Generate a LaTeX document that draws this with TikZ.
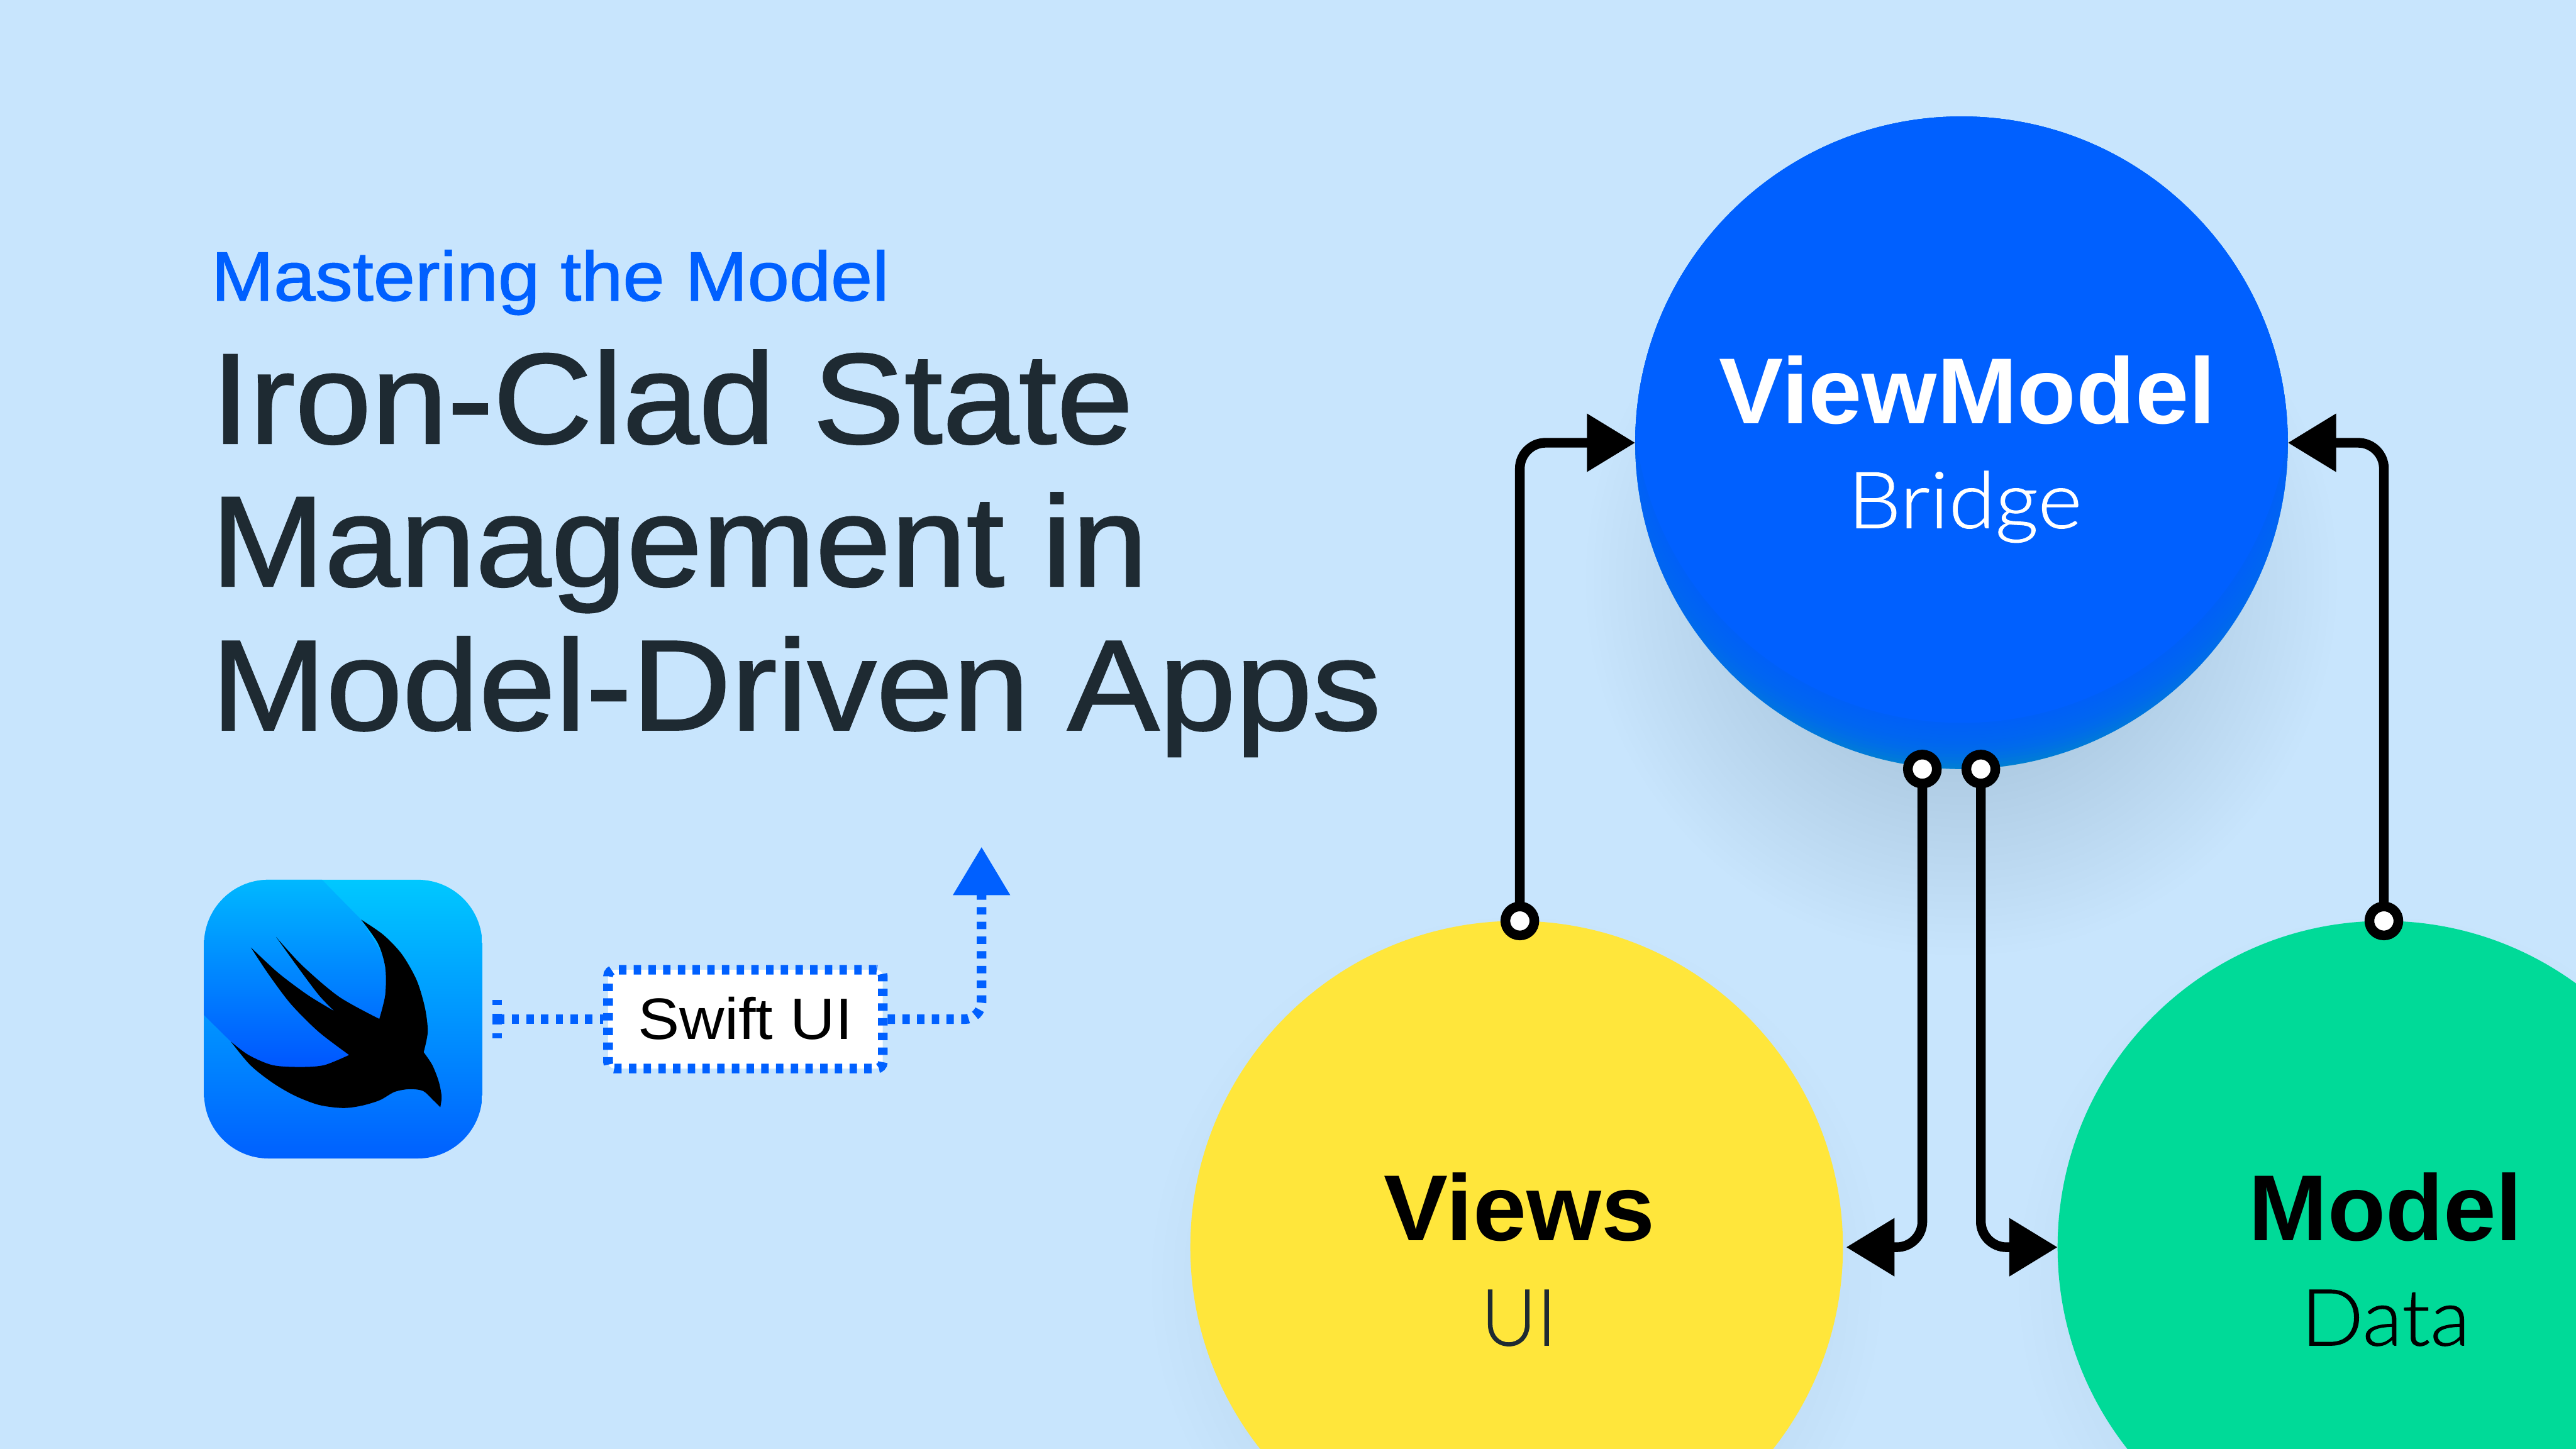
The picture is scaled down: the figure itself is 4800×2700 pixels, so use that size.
\documentclass[tikz,border=0pt]{standalone}
\usepackage{fontspec}
\usepackage{graphicx}
\setmainfont{Liberation Sans}
\newfontfamily\lightf[FakeBold=0.8]{Lato Light}
\newfontfamily\titlef[FakeBold=1.2]{Liberation Sans}
\usetikzlibrary{arrows.meta,shapes.geometric}
\definecolor{bgc}{HTML}{C8E5FD}
\definecolor{brand}{HTML}{0060FF}
\definecolor{rim}{HTML}{0085CC}
\definecolor{sun}{HTML}{FFE63B}
\definecolor{mint}{HTML}{00DA98}
\definecolor{ink}{HTML}{1E2A32}
\definecolor{icontop}{HTML}{00C8FF}
\definecolor{innertop}{HTML}{00B8FF}
\definecolor{innerbot}{HTML}{0050FF}
\newcommand{\fitw}[2]{\resizebox{\dimexpr #1pt/4\relax}{\height}{#2}}
\tikzset{
 bigc/.style={circle,minimum size=304pt,inner sep=0pt,outer sep=0pt},
 port/.style={circle,minimum size=13.5pt,inner sep=0pt,outer sep=0pt,draw=black,line width=4.5pt,fill=white},
 conn/.style={draw=black,line width=4.5pt,rounded corners=12pt,-{Triangle[length=22.5pt,width=26pt]}},
 bluelink/.style={draw=brand,line width=4.5pt,dash pattern=on 3.45pt off 3.4pt},
 headb/.style={font=\fontsize{43.6}{50}\selectfont\bfseries,anchor=base,inner sep=0pt},
 subt/.style={font=\fontsize{36.6}{44}\lightf,anchor=base,inner sep=0pt},
 titl/.style={font=\fontsize{60}{70}\titlef,text=ink,anchor=base west,inner sep=0pt},
}
\begin{document}
\begin{tikzpicture}[x=0.25pt,y=-0.25pt]
\useasboundingbox (0,0) rectangle (4800,2700);
\fill[bgc] (0,0) rectangle (4800,2700);
% soft shadows
\foreach \r in {350,364,...,700}{\fill[black,opacity=0.0032] (3655,1080) circle[radius=\r];}
\foreach \r in {560,580,...,680}{\fill[black,opacity=0.004] (2826,2390) circle[radius=\r];\fill[black,opacity=0.004] (4442,2390) circle[radius=\r];}
% circles
\node[bigc,fill=rim] (vm) at (3655,825) {};
\begin{scope}
\clip (vm.center) circle[radius=608];
\foreach \r in {700,694,...,616}{\fill[brand,opacity=0.14] (3655,735) circle[radius=\r];}
\fill[brand] (3655,735) circle[radius=612];
\end{scope}
\node[bigc,fill=sun] (vw) at (2826,2324) {};
\node[bigc,fill=mint] (md) at (4442,2324) {};
% labels
\node[headb,text=white] (vmt) at (3666,789) {\fitw{925}{ViewModel}};
\node[subt,text=white] (vms) at (3661,984) {\fitw{436}{Bridge}};
\node[headb,text=black] (vwt) at (2831,2311) {\fitw{505}{Views}};
\node[subt,text=ink] (vws) at (2830,2507) {\fitw{141}{UI}};
\node[headb,text=black] (mdt) at (4445,2311) {\fitw{510}{Model}};
\node[subt,text=black] (mds) at (4445,2507) {\fitw{315}{Data}};
% ports
\node[port] (pv) at (2832,1716) {};
\node[port] (pm) at (4442,1716) {};
\node[port] (pa) at (3582,1433) {};
\node[port] (pb) at (3691,1433) {};
% connectors
\draw[conn] (pv.north) |- (vm.west);
\draw[conn] (pm.north) |- (vm.east);
\draw[conn] (pa.south) |- ([xshift=1.5pt]vw.east);
\draw[conn] (pb.south) |- (md.west);
% title
\node[font=\fontsize{32.5}{40}\titlef,text=brand,anchor=base west,inner sep=0pt] (kick) at (393,560) {\fitw{1263}{Mastering the Model}};
\node[titl] (t1) at (393,826) {\fitw{1718}{Iron-Clad State}};
\node[titl] (t2) at (393,1092) {\fitw{1745}{Management in}};
\node[titl] (t3) at (393,1360) {\fitw{2180}{Model-Driven Apps}};
% icon
\begin{scope}[shift={(370,1630)},x=0.08609pt,y=-0.08609pt]
\begin{scope}
\clip[rounded corners=30pt] (30,27) rectangle (1535,1535);
\shade[top color=icontop,bottom color=brand] (30,27) rectangle (1535,1535);
\shade[top color=innertop,bottom color=innerbot] (30,27) -- (668,27) -- (880,243) -- (1100,600) -- (1000,1000) -- (550,1100) -- (250,985) -- (175,903) -- (30,760) -- cycle;
\end{scope}
\fill[black] (880,243)
 -- plot[smooth] coordinates {(880,243) (1000,325) (1100,430) (1180,570) (1225,720) (1240,850) (1218,960)}
 -- plot[smooth] coordinates {(1218,960) (1265,1030) (1300,1120) (1315,1200) (1308,1258)}
 -- plot[smooth] coordinates {(1308,1258) (1270,1220) (1215,1170) (1140,1160) (1060,1175) (980,1220) (880,1250) (780,1262) (650,1245) (520,1195) (400,1125) (280,1030) (175,903)}
 -- plot[smooth] coordinates {(175,903) (270,975) (400,1030) (550,1040) (680,1030) (815,975)}
 -- plot[smooth] coordinates {(815,975) (650,850) (500,700) (380,540) (283,393)}
 -- plot[smooth] coordinates {(283,393) (430,530) (590,650) (735,738)}
 -- plot[smooth] coordinates {(735,738) (650,650) (530,490) (420,337)}
 -- plot[smooth] coordinates {(420,337) (560,490) (760,660) (978,780)}
 -- plot[smooth] coordinates {(978,780) (1010,650) (1010,500) (970,370) (880,243)} -- cycle;
\end{scope}
% swift ui box and its dotted links
\node[draw=brand,fill=white,line width=4.5pt,dash pattern=on 3.45pt off 3.4pt,rounded corners=3pt,minimum width=128pt,minimum height=46pt,inner sep=0pt,outer sep=2.25pt] (sw) at (1389,1899) {};
\node[font=\fontsize{27.2}{32}\selectfont,text=black,anchor=base,inner sep=0pt] (swt) at (1389,1937) {\fitw{400}{Swift UI}};
\coordinate (st) at (926,1899);
\coordinate (stt) at (926,1863);
\coordinate (stb) at (926,1935);
\coordinate (up) at (1829,1578);
\draw[draw=brand,line width=4.5pt,dash pattern=on 2.5pt off 4pt on 5pt off 4pt on 2.5pt] (stt) -- (stb);
\draw[bluelink] (st) -- (sw.west);
\draw[bluelink,rounded corners=8pt,-{Triangle[length=22.5pt,width=25.5pt]}] (sw.east) -| (up);
\end{tikzpicture}
\end{document}
